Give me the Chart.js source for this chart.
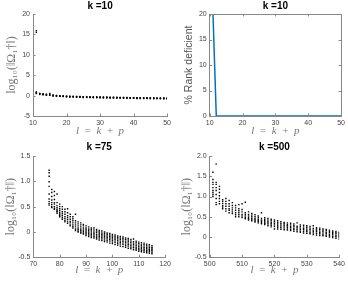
<!DOCTYPE html>
<html><head><meta charset="utf-8">
<script src="https://cdn.jsdelivr.net/npm/chart.js@4/dist/chart.umd.min.js"></script>
<style>
html,body{margin:0;padding:0;background:#fff;}
#wrap{position:relative;width:348px;height:281px;overflow:hidden;}
.p{position:absolute;}
</style></head><body>
<div id="wrap">
<div class="p" style="left:0;top:0"><canvas id="c1" width="174" height="140"></canvas></div>
<div class="p" style="left:174px;top:0"><canvas id="c2" width="174" height="140"></canvas></div>
<div class="p" style="left:0;top:140px"><canvas id="c3" width="174" height="141"></canvas></div>
<div class="p" style="left:174px;top:140px"><canvas id="c4" width="174" height="141"></canvas></div>
</div>
<script>
// ---------- DATA ----------
// Panel 1: k = 10, log10(||Omega_1^+||) per l
const k10L = [11,12,13,14,15,16,17,18,19,20,21,22,23,24,25,26,27,28,29,30,31,32,33,34,35,36,37,38,39,40,41,42,43,44,45,46,47,48,49,50];
const k10Vals = [
 [15.9,15.5,0.9,0.75,0.6,0.5],
 [0.55,0.45,0.35,0.3],
 [0.45,0.35,0.25,0.2],
 [0.35,0.25,0.15,0.1],
 [0.55,0.3,0.15,0.05],
 [0.15,0.05,-0.05,-0.1],
 [0.05,-0.05,-0.1,-0.15],
 [0.0,-0.1,-0.15,-0.2],
 [-0.05,-0.15,-0.2,-0.25],
 [-0.1,-0.2,-0.25,-0.3],
 [-0.15,-0.2,-0.3,-0.35],
 [-0.15,-0.25,-0.3,-0.35],
 [-0.2,-0.25,-0.3,-0.4],
 [-0.2,-0.3,-0.35,-0.4],
 [-0.25,-0.3,-0.4,-0.45],
 [-0.25,-0.35,-0.4,-0.45],
 [-0.3,-0.35,-0.4,-0.5],
 [-0.3,-0.35,-0.45,-0.5],
 [-0.3,-0.4,-0.45,-0.5],
 [-0.35,-0.4,-0.45,-0.55],
 [-0.35,-0.4,-0.5,-0.55],
 [-0.35,-0.45,-0.5,-0.55],
 [-0.4,-0.45,-0.5,-0.6],
 [-0.4,-0.45,-0.55,-0.6],
 [-0.4,-0.5,-0.55,-0.6],
 [-0.45,-0.5,-0.55,-0.6],
 [-0.45,-0.5,-0.55,-0.65],
 [-0.45,-0.5,-0.6,-0.65],
 [-0.5,-0.55,-0.6,-0.65],
 [-0.5,-0.55,-0.6,-0.65],
 [-0.5,-0.55,-0.6,-0.7],
 [-0.5,-0.55,-0.65,-0.7],
 [-0.55,-0.6,-0.65,-0.7],
 [-0.55,-0.6,-0.65,-0.7],
 [-0.55,-0.6,-0.65,-0.75],
 [-0.55,-0.6,-0.7,-0.75],
 [-0.6,-0.65,-0.7,-0.75],
 [-0.6,-0.65,-0.7,-0.75],
 [-0.6,-0.65,-0.7,-0.8],
 [-0.6,-0.7,-0.75,-0.8]
];
// Panel 2: k = 10, % rank deficient per l
const rankDef = [20,0,0,0,0,0,0,0,0,0,0,0,0,0,0,0,0,0,0,0,0,0,0,0,0,0,0,0,0,0,0,0,0,0,0,0,0,0,0,0];
// Panel 3: k = 75
const k75L = [76,77,78,79,80,81,82,83,84,85,86,87,88,89,90,91,92,93,94,95,96,97,98,99,100,101,102,103,104,105,106,107,108,109,110,111,112,113,114,115];
const k75Vals = [
 [1.22,1.17,1.1,0.99,0.9,0.75,0.65,0.6,0.56,0.53],
 [0.84,0.78,0.7,0.63,0.58,0.54,0.5,0.48],
 [0.8,0.72,0.64,0.58,0.55,0.5,0.47,0.45],
 [0.75,0.58,0.52,0.48,0.45,0.42,0.4,0.37],
 [0.55,0.5,0.46,0.42,0.38,0.35,0.32,0.3],
 [0.5,0.45,0.4,0.36,0.32,0.28,0.25],
 [0.45,0.4,0.35,0.3,0.26,0.22,0.2],
 [0.46,0.38,0.32,0.28,0.24,0.2,0.17],
 [0.35,0.3,0.25,0.21,0.18,0.14,0.12],
 [0.3,0.26,0.22,0.18,0.14,0.11,0.08],
 [0.35,0.22,0.18,0.14,0.1,0.06,0.03],
 [0.2,0.16,0.12,0.08,0.05,0.02,0.0],
 [0.18,0.14,0.1,0.06,0.03,0.0,-0.02],
 [0.15,0.12,0.08,0.04,0.01,-0.02,-0.04],
 [0.12,0.08,0.05,0.02,-0.01,-0.04,-0.07],
 [0.1,0.06,0.03,0.0,-0.03,-0.06,-0.09],
 [0.08,0.05,0.02,-0.02,-0.05,-0.08,-0.11],
 [0.08,0.04,0.0,-0.03,-0.06,-0.09,-0.12],
 [0.05,0.02,-0.01,-0.05,-0.08,-0.11,-0.14],
 [0.03,0.0,-0.03,-0.06,-0.09,-0.12,-0.16],
 [0.02,-0.02,-0.05,-0.08,-0.11,-0.14,-0.17],
 [0.0,-0.03,-0.06,-0.09,-0.12,-0.16,-0.19],
 [-0.02,-0.05,-0.08,-0.11,-0.14,-0.17,-0.2],
 [-0.03,-0.06,-0.09,-0.12,-0.15,-0.18,-0.22],
 [-0.05,-0.08,-0.11,-0.14,-0.17,-0.2,-0.23],
 [-0.06,-0.09,-0.12,-0.15,-0.18,-0.21,-0.25],
 [-0.08,-0.11,-0.14,-0.17,-0.2,-0.23,-0.26],
 [-0.09,-0.12,-0.15,-0.18,-0.21,-0.24,-0.28],
 [-0.1,-0.13,-0.16,-0.19,-0.22,-0.25,-0.29],
 [-0.12,-0.15,-0.18,-0.21,-0.24,-0.27,-0.3],
 [-0.13,-0.16,-0.19,-0.22,-0.25,-0.28,-0.32],
 [-0.15,-0.18,-0.21,-0.24,-0.27,-0.3,-0.33],
 [-0.14,-0.19,-0.22,-0.25,-0.28,-0.31,-0.35],
 [-0.18,-0.21,-0.24,-0.27,-0.3,-0.33,-0.36],
 [-0.2,-0.23,-0.26,-0.29,-0.32,-0.35,-0.38],
 [-0.21,-0.24,-0.27,-0.3,-0.33,-0.36,-0.39],
 [-0.22,-0.25,-0.28,-0.31,-0.34,-0.37,-0.4],
 [-0.24,-0.27,-0.3,-0.33,-0.36,-0.38,-0.41],
 [-0.25,-0.28,-0.31,-0.34,-0.36,-0.39,-0.42],
 [-0.27,-0.3,-0.32,-0.35,-0.37,-0.4,-0.43]
];
// Panel 4: k = 500
const k500L = [501,502,503,504,505,506,507,508,509,510,511,512,513,514,515,516,517,518,519,520,521,522,523,524,525,526,527,528,529,530,531,532,533,534,535,536,537,538,539,540];
const k500Vals = [
 [1.6,1.42,1.35,1.3,1.22,1.15,1.1,1.05,1.0],
 [1.8,1.35,1.3,1.22,1.15,1.05,0.95,0.85,0.8],
 [1.25,1.18,1.1,1.02,0.95,0.88,0.82],
 [0.92,0.88,0.83,0.78,0.74,0.7],
 [0.95,0.88,0.82,0.76,0.7,0.64],
 [0.9,0.82,0.76,0.7,0.66,0.6],
 [0.85,0.78,0.72,0.67,0.62,0.58],
 [0.78,0.72,0.66,0.6,0.55,0.5],
 [0.8,0.7,0.65,0.6,0.55,0.5],
 [0.82,0.68,0.62,0.56,0.52,0.48],
 [0.86,0.6,0.56,0.52,0.48,0.45],
 [0.62,0.56,0.52,0.48,0.45,0.42],
 [0.58,0.54,0.5,0.46,0.43,0.4],
 [0.55,0.5,0.46,0.43,0.4,0.37],
 [0.52,0.48,0.44,0.41,0.38,0.35],
 [0.6,0.46,0.42,0.39,0.36,0.33],
 [0.48,0.44,0.4,0.37,0.34,0.31],
 [0.46,0.42,0.38,0.35,0.32,0.28],
 [0.44,0.4,0.36,0.33,0.29,0.25],
 [0.42,0.38,0.34,0.3,0.26,0.2],
 [0.4,0.36,0.32,0.28,0.24,0.2],
 [0.38,0.34,0.3,0.27,0.23,0.19],
 [0.36,0.33,0.29,0.25,0.22,0.18],
 [0.35,0.31,0.28,0.24,0.2,0.17],
 [0.34,0.3,0.26,0.23,0.19,0.16],
 [0.32,0.28,0.25,0.21,0.18,0.14],
 [0.35,0.27,0.24,0.2,0.17,0.13],
 [0.3,0.26,0.22,0.19,0.15,0.12],
 [0.29,0.25,0.21,0.18,0.14,0.1],
 [0.28,0.24,0.2,0.16,0.13,0.09],
 [0.26,0.22,0.19,0.15,0.11,0.08],
 [0.28,0.21,0.17,0.14,0.1,0.06],
 [0.23,0.2,0.16,0.13,0.09,0.05],
 [0.22,0.19,0.15,0.11,0.08,0.04],
 [0.2,0.17,0.14,0.1,0.06,0.03],
 [0.19,0.16,0.12,0.09,0.05,0.02],
 [0.17,0.14,0.11,0.07,0.04,0.0],
 [0.15,0.12,0.09,0.06,0.02,-0.01],
 [0.14,0.11,0.08,0.04,0.01,-0.03],
 [0.12,0.09,0.06,0.03,0.0,-0.05]
];

// ---------- helpers ----------
function toPoints(ls, vals){
  const pts=[];
  ls.forEach((l,i)=>vals[i].forEach(v=>pts.push({x:l,y:v})));
  return pts;
}
const GRAY='#888';
const inwardTicks={
  id:'inwardTicks',
  afterDatasetsDraw(chart,args,opts){
    const {ctx,chartArea:a,scales:{x,y}}=chart;
    ctx.save();
    ctx.strokeStyle=GRAY; ctx.lineWidth=1;
    const L=2.5;
    const ln=(x1,y1,x2,y2)=>{ctx.beginPath();ctx.moveTo(x1,y1);ctx.lineTo(x2,y2);ctx.stroke();};
    x.ticks.forEach(t=>{const p=Math.round(x.getPixelForValue(t.value))+0.5;
      ln(p,a.bottom,p,a.bottom-L); if(opts.box) ln(p,a.top,p,a.top+L);});
    y.ticks.forEach(t=>{const p=Math.round(y.getPixelForValue(t.value))+0.5;
      ln(a.left,p,a.left+L,p); if(opts.box) ln(a.right,p,a.right-L,p);});
    if(opts.box){
      ln(a.left,Math.round(a.top)+0.5,a.right,Math.round(a.top)+0.5);
      ln(Math.round(a.right)+0.5,a.top,Math.round(a.right)+0.5,a.bottom);
    }
    ctx.restore();
  }
};
const xLabel='l \u2009=\u2009 k \u2009+\u2009 p';
function makeOpts(o){
  return {
    responsive:false, animation:false, devicePixelRatio:1,
    layout:{padding:{left:0,right:o.padRight,top:0,bottom:0}},
    plugins:{
      legend:{display:false}, tooltip:{enabled:false},
      title:{display:true,text:o.title,fullSize:false,color:'#000',
        font:{family:'Liberation Sans',size:10,weight:'bold',lineHeight:1.2},
        padding:{top:o.titleTop,bottom:o.titleBottom}},
      inwardTicks:{box:!!o.box}
    },
    scales:{
      x:{type:'linear',min:o.xmin,max:o.xmax,
        afterFit(s){s.height=o.xh;},
        ticks:{stepSize:10,color:'#444',padding:3,maxRotation:0,font:{family:'Liberation Sans',size:7}},
        grid:{display:true,drawOnChartArea:false,drawTicks:false},
        border:{display:true,color:GRAY,width:1},
        title:{display:true,text:xLabel,color:'#777',
          font:{family:'Liberation Serif',style:'italic',size:11,lineHeight:1.2},
          padding:{top:0,bottom:o.xtPad}}},
      y:{type:'linear',min:o.ymin,max:o.ymax,
        afterFit(s){s.width=o.yw;},
        ticks:{stepSize:o.ystep,color:'#444',padding:3,font:{family:'Liberation Sans',size:7}},
        grid:{display:true,drawOnChartArea:false,drawTicks:false},
        border:{display:true,color:GRAY,width:1},
        title:{display:true,text:o.ylabel,color:o.ylabelColor||'#777',
          font:o.yfont,padding:{top:o.ytPad,bottom:0}}}
    }
  };
}
const serifY={family:'Liberation Serif',size:12,lineHeight:1.2};
const ptStyle={pointStyle:'rect',pointRadius:1.0,pointBorderWidth:0,backgroundColor:'#000',borderColor:'#000',showLine:false};
const logLabel='log\u2081\u2080(\u2016\u03A9\u2081\u2020\u2016)';

new Chart(document.getElementById('c1'),{
  type:'scatter',
  data:{datasets:[Object.assign({data:toPoints(k10L,k10Vals)},ptStyle)]},
  options:makeOpts({title:'k =10',padRight:6.5,titleTop:0,titleBottom:2,xmin:10,xmax:50,xh:24,xtPad:2.5,
    ymin:-5,ymax:20,ystep:5,yw:33,ylabel:logLabel,yfont:serifY,ytPad:5}),
  plugins:[inwardTicks]
});
new Chart(document.getElementById('c2'),{
  type:'line',
  data:{datasets:[{data:k10L.map((l,i)=>({x:l,y:rankDef[i]})),borderColor:'#0072BD',borderWidth:1.5,pointRadius:0,fill:false,tension:0}]},
  options:makeOpts({title:'k =10',padRight:6.3,titleTop:0,titleBottom:2,xmin:10,xmax:50,xh:24,xtPad:2.5,
    ymin:0,ymax:20,ystep:5,yw:35.7,ylabel:'% Rank deficient',ylabelColor:'#555',
    yfont:{family:'Liberation Sans',size:10.5,lineHeight:1.2},ytPad:8.5,box:true}),
  plugins:[inwardTicks]
});
new Chart(document.getElementById('c3'),{
  type:'scatter',
  data:{datasets:[Object.assign({data:toPoints(k75L,k75Vals)},ptStyle)]},
  options:makeOpts({title:'k =75',padRight:6.7,titleTop:1,titleBottom:3,xmin:70,xmax:120,xh:23.7,xtPad:4,
    ymin:-0.5,ymax:1.5,ystep:0.5,yw:33.3,ylabel:logLabel,yfont:serifY,ytPad:3.5}),
  plugins:[inwardTicks]
});
new Chart(document.getElementById('c4'),{
  type:'scatter',
  data:{datasets:[Object.assign({data:toPoints(k500L,k500Vals)},ptStyle)]},
  options:makeOpts({title:'k =500',padRight:5,titleTop:1,titleBottom:3,xmin:500,xmax:540,xh:23.7,xtPad:4,
    ymin:-0.5,ymax:2,ystep:0.5,yw:35.7,ylabel:logLabel,yfont:serifY,ytPad:5.5}),
  plugins:[inwardTicks]
});
</script>
</body></html>
